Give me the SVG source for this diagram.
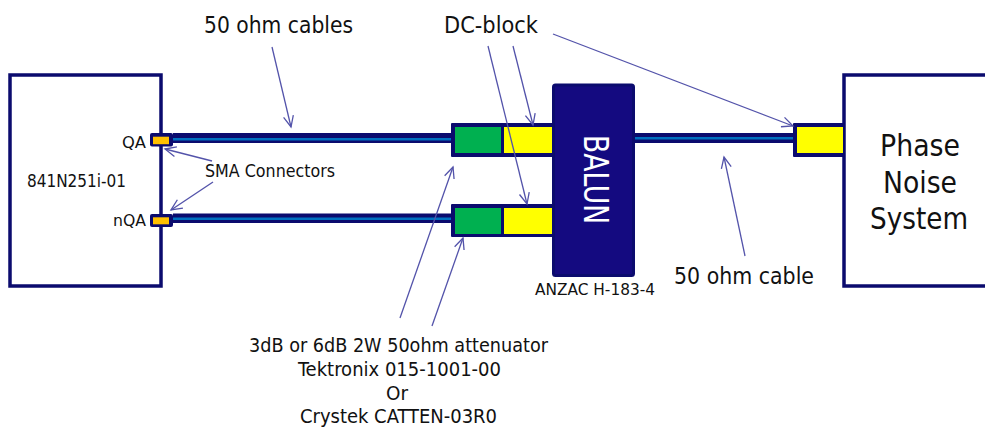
<svg xmlns="http://www.w3.org/2000/svg" width="985" height="428" viewBox="0 0 985 428">
<style>
text{font-family:"DejaVu Sans",sans-serif;font-stretch:condensed;fill:#111;text-anchor:middle}
.box{fill:#fff;stroke:#0b0b6e;stroke-width:3.5}
.cab{fill:#0b0b6e}
.core{fill:#0070c0}
.hous{fill:#0b0b6e}
.ar{fill:none;stroke:#5353aa;stroke-width:1.3;marker-end:url(#a)}
</style>
<defs>
<marker id="a" markerUnits="userSpaceOnUse" markerWidth="16" markerHeight="16" refX="13" refY="7" orient="auto"><path d="M2 2L13 7L2 12" fill="none" stroke="#5353aa" stroke-width="1.3"/></marker>
</defs>
<rect width="985" height="428" fill="#fff"/>
<g id="source"><rect class="box" x="10" y="75" width="151" height="211"/>
<text x="76.500" y="187" font-size="18" textLength="99" lengthAdjust="spacingAndGlyphs">841N251i-01</text>
<text x="134" y="148" font-size="16" textLength="24" lengthAdjust="spacingAndGlyphs">QA</text>
<text x="129.500" y="226" font-size="16" textLength="33" lengthAdjust="spacingAndGlyphs">nQA</text></g>
<g id="phase-noise"><rect class="box" x="844" y="75" width="150" height="211"/>
<text x="920" y="156" font-size="30" textLength="80" lengthAdjust="spacingAndGlyphs">Phase</text>
<text x="920" y="193" font-size="30" textLength="74" lengthAdjust="spacingAndGlyphs">Noise</text>
<text x="919" y="229" font-size="30" textLength="98" lengthAdjust="spacingAndGlyphs">System</text></g>
<g id="sma-top"><rect class="hous" x="150" y="133" width="23" height="13.500" rx="2"/><rect x="153" y="136.700" width="16" height="7.500" fill="#ffc000"/></g>
<g id="sma-bottom"><rect class="hous" x="150" y="214" width="23" height="13" rx="2"/><rect x="153" y="217.300" width="16" height="7" fill="#ffc000"/></g>
<g id="att-top"><rect class="hous" x="451" y="123" width="102" height="34" rx="1"/><rect x="455" y="127" width="46" height="26" fill="#00b050"/><rect x="504" y="127" width="48" height="26" fill="#ff0"/></g>
<g id="att-bottom"><rect class="hous" x="451" y="204" width="102" height="33" rx="1"/><rect x="455" y="208" width="46" height="26" fill="#00b050"/><rect x="504" y="208" width="48" height="26" fill="#ff0"/></g>
<g id="dc-right"><rect class="hous" x="793" y="123" width="52" height="34" rx="1"/><rect x="797" y="127" width="46" height="26" fill="#ff0"/></g>
<g id="balun"><rect x="553.500" y="85" width="80" height="190.500" rx="2" fill="#140a80" stroke="#0b0b6e" stroke-width="3"/>
<text transform="translate(584 179.500) rotate(90)" font-size="33" textLength="89" lengthAdjust="spacingAndGlyphs" style="fill:#fff">BALUN</text></g>
<g id="connectors">
<rect class="cab" x="173" y="133" width="278" height="10"/><rect class="core" x="173" y="138" width="278" height="2.500"/>
<rect class="cab" x="173" y="213.500" width="278" height="9.500"/><rect class="core" x="173" y="217.500" width="278" height="2.500"/>
<rect class="cab" x="635" y="133" width="158" height="10"/><rect class="core" x="635" y="137" width="158" height="2.500"/>
<path class="ar" d="M272 47L291 127"/>
<path class="ar" d="M513 46L533 125"/>
<path class="ar" d="M488 46L527 204"/>
<path class="ar" d="M553 34L793 126"/>
<path class="ar" d="M212 161L165 149"/>
<path class="ar" d="M213 182L171 210"/>
<path class="ar" d="M400 318L453 167"/>
<path class="ar" d="M432 326L463 238"/>
<path class="ar" d="M745 256L724 157"/>
</g>
<g id="labels">
<text x="278.500" y="33" font-size="23" textLength="149" lengthAdjust="spacingAndGlyphs">50 ohm cables</text>
<text x="491" y="33" font-size="23" textLength="94" lengthAdjust="spacingAndGlyphs">DC-block</text>
<text x="270" y="177" font-size="17" textLength="130" lengthAdjust="spacingAndGlyphs">SMA Connectors</text>
<text x="595" y="295" font-size="15" textLength="120" lengthAdjust="spacingAndGlyphs">ANZAC H-183-4</text>
<text x="744" y="284" font-size="23" textLength="140" lengthAdjust="spacingAndGlyphs">50 ohm cable</text>
<text x="398.500" y="352" font-size="20" textLength="299" lengthAdjust="spacingAndGlyphs">3dB or 6dB 2W 50ohm attenuator</text>
<text x="399.500" y="376" font-size="20" textLength="203" lengthAdjust="spacingAndGlyphs">Tektronix 015-1001-00</text>
<text x="397" y="400" font-size="20" textLength="22" lengthAdjust="spacingAndGlyphs">Or</text>
<text x="398.500" y="423" font-size="20" textLength="197" lengthAdjust="spacingAndGlyphs">Crystek CATTEN-03R0</text>
</g>
</svg>
